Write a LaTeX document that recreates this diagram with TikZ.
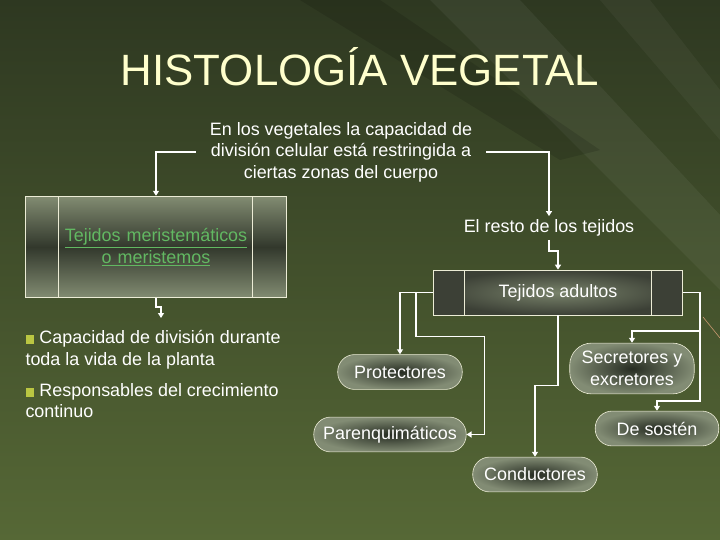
\documentclass[tikz,border=0pt]{standalone}
\usepackage{fontspec}
\setmainfont{Liberation Sans}
\usetikzlibrary{positioning,calc,arrows.meta}
\definecolor{bgdark}{RGB}{46,56,33}
\definecolor{bglight}{RGB}{86,104,54}
\definecolor{titleclr}{RGB}{255,255,204}
\definecolor{linkclr}{RGB}{98,184,98}
\definecolor{panellight}{RGB}{130,140,114}
\definecolor{paneldark}{RGB}{50,56,44}
\definecolor{adultdark}{RGB}{60,64,54}
\definecolor{adultlight}{RGB}{120,130,106}
\definecolor{pillin}{RGB}{38,44,34}
\definecolor{pillout}{RGB}{130,140,116}
\definecolor{edgeclr}{RGB}{236,236,214}
\definecolor{bulletclr}{RGB}{186,198,66}
\definecolor{streakclr}{RGB}{200,152,112}
\newcommand{\bulletsq}{\textcolor{bulletclr}{\rule{9pt}{9pt}}}

\tikzset{
  txt/.style={text=white, font=\fontsize{18}{21.5}\selectfont, align=center},
  flow/.style={draw=white, line width=1.5pt, -{Triangle[width=6pt,length=5pt]}},
  meripanel/.style={draw=edgeclr, line width=0.8pt, minimum width=262pt, minimum height=102pt,
    top color=panellight, bottom color=panellight, middle color=paneldark,
    path picture={
      \draw[edgeclr, line width=0.8pt]
        ($(path picture bounding box.north west)+(33,0)$) -- ($(path picture bounding box.south west)+(33,0)$)
        ($(path picture bounding box.north east)+(-34,0)$) -- ($(path picture bounding box.south east)+(-34,0)$);}},
  adultpanel/.style={draw=edgeclr, line width=0.8pt, minimum width=250pt, minimum height=45pt,
    fill=adultdark,
    path picture={
      \shade[inner color=adultlight, outer color=adultdark]
        ($(path picture bounding box.north west)+(31,0)$) rectangle ($(path picture bounding box.south east)+(-31,0)$);
      \draw[edgeclr, line width=0.8pt]
        ($(path picture bounding box.north west)+(31,0)$) -- ($(path picture bounding box.south west)+(31,0)$)
        ($(path picture bounding box.north east)+(-31,0)$) -- ($(path picture bounding box.south east)+(-31,0)$);}},
  pill/.style={txt, draw=edgeclr, line width=0.6pt, rounded corners=17pt, inner sep=2pt,
    minimum width=125pt, minimum height=35pt, inner color=pillin, outer color=pillout}
}

\begin{document}
\begin{tikzpicture}[x=1bp, y=-1bp]
  \shade[top color=bgdark, bottom color=bglight] (0,0) rectangle (720,540);
  \useasboundingbox (0,0) rectangle (720,540);
  \fill[white, opacity=0.05] (430,0) -- (520,0) -- (720,215) -- (720,290) -- cycle;
  \fill[white, opacity=0.04] (600,0) -- (650,0) -- (720,90) -- (720,140) -- cycle;
  \fill[black, opacity=0.12] (300,0) -- (380,0) -- (600,150) -- (560,160) -- cycle;
  \draw[streakclr, line width=0.6pt] (703,317) -- (720,338);

  \node[font=\fontsize{44}{48}\selectfont, text=titleclr] (title) at (360,67) {HISTOLOGÍA VEGETAL};

  \node[txt, inner xsep=14pt] (intro) at (341,152)
    {En los vegetales la capacidad de\\ división celular está restringida a\\ ciertas zonas del cuerpo};

  \node[meripanel, txt, text=linkclr, text width=190pt] (meri) at (156,247)
    {\underline{Tejidos meristemáticos}\\ \underline{o meristemos}};
  \node[txt] (resto) at (549,228) {El resto de los tejidos};
  \node[adultpanel, txt] (adultos) at (558,292.5) {Tejidos adultos};

  \node[txt, anchor=north west, align=left] (rasgos) at (22,327)
    {\bulletsq\ Capacidad de división durante\\ toda la vida de la planta\\[10pt]
     \bulletsq\ Responsables del crecimiento\\ continuo};
  \coordinate (meriend) at (161,318);

  \node[pill] (prot) at (400,372) {Protectores};
  \node[pill, minimum width=153pt] (paren) at (390,434.5) {Parenquimáticos};
  \node[pill] (cond) at (535,474.5) {Conductores};
  \node[pill, minimum height=51pt, rounded corners=22pt] (secr) at (632,368.5) {Secretores y\\ excretores};
  \node[pill, minimum width=124pt] (sosten) at (657,428.5) {De sostén};

  \draw[flow] (intro.west) -| (meri.north);
  \draw[flow] (intro.east) -| (resto.north);
  \draw[flow] (resto.south) -- ++(0,11) -| (adultos.north);
  \draw[flow] (meri.south) -- ++(0,9) -| (meriend);

  \draw[flow] (adultos.west) -| (prot.north);
  \draw[flow] ($(adultos.west)+(-17,0)$) -- ++(0,44) -| ($(paren.east)+(18,0)$) -- (paren.east);
  \draw[flow] (adultos.south) -- ++(0,70) -| (cond.north);
  \draw[flow] (adultos.east) -- ++(17,0) |- ($(secr.north)+(0,-12)$) -- (secr.north);
  \draw[flow] ($(adultos.east)+(17,0)$) |- ($(sosten.north)+(0,-10)$) -- (sosten.north);
\end{tikzpicture}
\end{document}
